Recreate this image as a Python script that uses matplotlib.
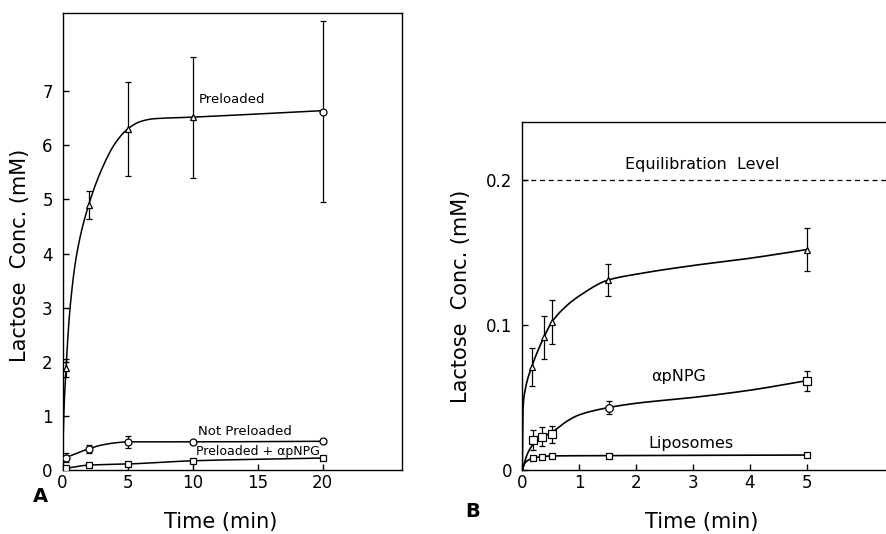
import numpy as np
import matplotlib
matplotlib.use("Agg")
import matplotlib.pyplot as plt

# ---- Panel A data (time in min, lactose in mM) ----
a_time = [0.27, 2, 5, 10, 20]
a_pre = [1.88, 4.89, 6.30, 6.52, 6.62]
a_pre_err = [0.17, 0.26, 0.87, 1.12, 1.67]
a_pre_markers = ["^", "^", "^", "^", "o"]
a_notpre = [0.23, 0.39, 0.52, 0.52, 0.53]
a_notpre_err = [0.08, 0.08, 0.11, 0.04, 0.04]
a_npg = [0.03, 0.09, 0.11, 0.17, 0.22]
a_npg_err = [0.0, 0.0, 0.0, 0.0, 0.03]

# fitted curves
a_pre_curve_t = [0, 0.08, 0.27, 0.58, 1.1, 2, 3, 4, 5, 6, 7, 10, 20]
a_pre_curve_y = [0, 0.9, 1.88, 3.0, 4.0, 4.89, 5.55, 6.02, 6.30, 6.44, 6.49, 6.52, 6.64]
a_notpre_curve_t = [0.27, 1, 2, 3, 4, 5, 10, 20]
a_notpre_curve_y = [0.23, 0.30, 0.39, 0.46, 0.50, 0.52, 0.52, 0.53]
a_npg_curve_t = [0.27, 2, 5, 10, 20]
a_npg_curve_y = [0.03, 0.09, 0.11, 0.17, 0.22]

# ---- Panel B data ----
b_time = [0.165, 0.38, 0.52, 1.51, 5]
b_pre = [0.071, 0.0915, 0.102, 0.131, 0.152]
b_pre_err = [0.013, 0.015, 0.015, 0.011, 0.015]
b_npg_time = [0.18, 0.35, 0.52, 1.52, 5]
b_npg = [0.0207, 0.023, 0.0246, 0.043, 0.0616]
b_npg_err = [0.007, 0.0065, 0.006, 0.0045, 0.0068]
b_lipo_time = [0.18, 0.35, 0.52, 1.52, 5]
b_lipo = [0.008, 0.0092, 0.0097, 0.0099, 0.0103]
b_equil = 0.2

b_pre_curve_t = [0, 0.01, 0.05, 0.165, 0.38, 0.52, 0.8, 1.0, 1.51, 2, 3, 4, 5]
b_pre_curve_y = [0, 0.04, 0.055, 0.071, 0.0915, 0.102, 0.114, 0.12, 0.131, 0.135, 0.141, 0.146, 0.152]
b_npg_curve_t = [0, 0.1, 0.2, 0.38, 0.52, 0.8, 1.0, 1.51, 2, 3, 4, 5]
b_npg_curve_y = [0, 0.012, 0.018, 0.023, 0.026, 0.034, 0.038, 0.043, 0.046, 0.050, 0.055, 0.0616]
b_lipo_curve_t = [0, 0.05, 0.18, 0.35, 0.52, 1.52, 5]
b_lipo_curve_y = [0, 0.005, 0.008, 0.0092, 0.0097, 0.0099, 0.0103]


def smooth(t, y, n=400):
    # monotone cubic (Fritsch-Carlson) just for drawing the curve
    t = np.asarray(t, float)
    y = np.asarray(y, float)
    h = np.diff(t)
    d = np.diff(y) / h
    m = np.zeros_like(y)
    m[0], m[-1] = d[0], d[-1]
    for i in range(1, len(y) - 1):
        if d[i - 1] * d[i] > 0:
            w1 = 2 * h[i] + h[i - 1]
            w2 = h[i] + 2 * h[i - 1]
            m[i] = (w1 + w2) / (w1 / d[i - 1] + w2 / d[i])
    tt = np.linspace(t[0], t[-1], n)
    k = np.clip(np.searchsorted(t, tt) - 1, 0, len(t) - 2)
    s = (tt - t[k]) / h[k]
    h00 = 2 * s**3 - 3 * s**2 + 1
    h10 = s**3 - 2 * s**2 + s
    h01 = -2 * s**3 + 3 * s**2
    h11 = s**3 - s**2
    yy = h00 * y[k] + h10 * h[k] * m[k] + h01 * y[k + 1] + h11 * h[k] * m[k + 1]
    return tt, yy


def draw_series(ax, t, y, err, markers, ms=5):
    ax.errorbar(t, y, yerr=err, fmt="none", ecolor="black", elinewidth=0.9,
                capsize=2.5, capthick=0.9, zorder=3)
    for xi, yi, mk in zip(t, y, markers):
        ax.plot(xi, yi, marker=mk, ms=ms, mfc="white", mec="black", mew=0.9,
                ls="none", zorder=4)


def style(ax):
    for sp in ax.spines.values():
        sp.set_linewidth(1.0)
    ax.tick_params(direction="in", length=4, width=1.0, labelsize=12,
                   top=False, right=False)
    ax.tick_params(axis="y", pad=7)
    ax.tick_params(axis="x", pad=3)


fig = plt.figure(figsize=(8.87, 5.34), dpi=100)

# ---------------- Panel A ----------------
axA = fig.add_axes([0.0705, 0.1199, 0.3827, 0.8563])
axA.plot(*smooth(a_pre_curve_t, a_pre_curve_y), color="black", lw=1.1, zorder=2)
axA.plot(*smooth(a_notpre_curve_t, a_notpre_curve_y), color="black", lw=1.1, zorder=2)
axA.plot(*smooth(a_npg_curve_t, a_npg_curve_y), color="black", lw=1.1, zorder=2)
draw_series(axA, a_time, a_pre, a_pre_err, a_pre_markers)
draw_series(axA, a_time, a_notpre, a_notpre_err, ["o"] * len(a_time))
draw_series(axA, a_time, a_npg, a_npg_err, ["s"] * len(a_time))
axA.set_xlim(0, 26.1)
axA.set_ylim(0, 8.45)
axA.set_xticks([0, 5, 10, 15, 20])
axA.set_yticks(range(8))
style(axA)
axA.text(10.5, 6.84, "Preloaded", fontsize=9.5, va="center", ha="left")
axA.text(10.4, 0.71, "Not Preloaded", fontsize=9.5, va="center", ha="left")
axA.text(10.3, 0.35, "Preloaded + \u03b1pNPG", fontsize=9, va="center", ha="left")
axA.set_ylabel("Lactose  Conc. (mM)", fontsize=15)
axA.yaxis.set_label_coords(-0.095, 0.47)
axA.set_xlabel("Time (min)", fontsize=15)
axA.xaxis.set_label_coords(0.467, -0.091)
fig.text(0.0457, 0.071, "A", fontsize=14, fontweight="bold", ha="center", va="center")

# ---------------- Panel B ----------------
axB = fig.add_axes([0.5888, 0.1199, 0.4112, 0.6517])
axB.axhline(b_equil, color="black", lw=0.9, ls=(0, (4, 3)), zorder=1)
axB.plot(*smooth(b_pre_curve_t, b_pre_curve_y), color="black", lw=1.2, zorder=2)
axB.plot(*smooth(b_npg_curve_t, b_npg_curve_y), color="black", lw=1.2, zorder=2)
axB.plot(*smooth(b_lipo_curve_t, b_lipo_curve_y), color="black", lw=1.2, zorder=2)
draw_series(axB, b_time, b_pre, b_pre_err, ["^"] * len(b_time))
draw_series(axB, b_npg_time, b_npg, b_npg_err, ["s", "s", "s", "o", "s"], ms=5.5)
draw_series(axB, b_lipo_time, b_lipo, [0.0] * len(b_lipo), ["s"] * len(b_lipo_time), ms=4.5)
axB.set_xlim(0, 6.41)
axB.set_ylim(0, 0.24)
axB.set_xticks([0, 1, 2, 3, 4, 5])
axB.set_yticks([0, 0.1, 0.2])
axB.set_yticklabels(["0", "0.1", "0.2"])
style(axB)
axB.spines["right"].set_visible(False)
axB.text(3.16, 0.211, "Equilibration  Level", fontsize=11.5, ha="center", va="center")
axB.text(2.74, 0.0644, "\u03b1pNPG", fontsize=11.5, ha="center", va="center")
axB.text(2.96, 0.0184, "Liposomes", fontsize=11.5, ha="center", va="center")
axB.set_ylabel("Lactose  Conc. (mM)", fontsize=15)
axB.yaxis.set_label_coords(-0.14, 0.5)
axB.set_xlabel("Time (min)", fontsize=15)
axB.xaxis.set_label_coords(0.492, -0.12)
fig.text(0.533, 0.042, "B", fontsize=14, fontweight="bold", ha="center", va="center")

fig.savefig("out.png", dpi=100)
plt.close(fig)
